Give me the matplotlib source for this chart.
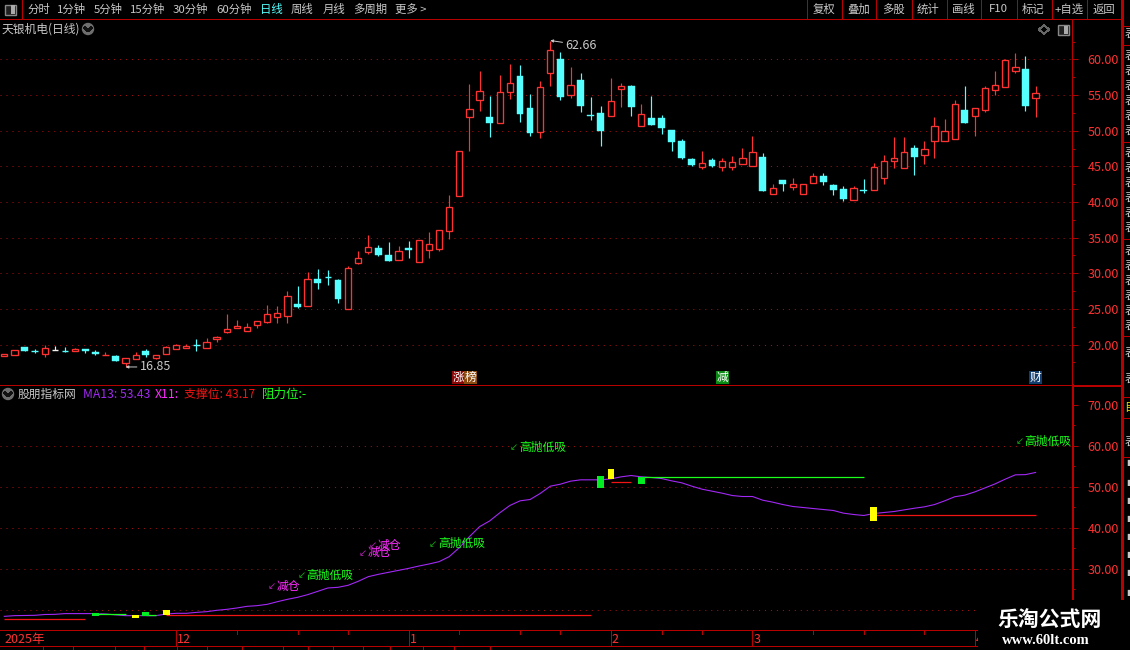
import matplotlib
matplotlib.use('Agg')
import matplotlib.pyplot as plt
from matplotlib.lines import Line2D
from matplotlib.patches import Rectangle, Ellipse

plt.rcParams['font.family'] = ['Noto Sans CJK SC', 'DejaVu Sans']
plt.rcParams['lines.scale_dashes'] = False

# daily candles
opens = [18.4, 18.55, 19.63, 19.07, 18.69, 19.3, 19.16, 19.11, 19.44, 18.97, 18.55, 18.36, 17.43, 17.99, 19.16,
         18.13, 18.69, 19.39, 19.53, 19.97, 19.53, 20.84, 21.78, 22.34, 21.92, 22.76, 23.18, 23.88, 24.02, 25.75,
         25.42, 29.25, 29.51, 29.02, 25.0, 31.45, 33.0, 33.6, 32.63, 31.92, 33.6, 31.64, 33.33, 33.42, 35.99,
         40.9, 51.86, 54.38, 51.86, 51.02, 55.46, 57.66, 53.26, 49.89, 58.17, 60.05, 54.95, 57.1, 52.23, 52.47,
         52.09, 55.79, 56.26, 50.71, 51.79, 51.79, 50.09, 48.54, 45.99, 44.91, 45.85, 44.91, 44.91, 45.33, 45.05,
         46.27, 41.08, 43.02, 42.08, 41.08, 42.64, 43.68, 42.45, 41.89, 40.33, 41.75, 41.64, 43.33, 45.77, 44.74,
         47.51, 46.57, 48.54, 48.54, 48.83, 52.86, 52.07, 52.91, 55.73, 56.15, 58.4, 58.73, 54.6]
closes = [18.74, 19.3, 19.11, 19.05, 19.58, 19.3, 19.13, 19.44, 19.07, 18.69, 18.6, 17.7, 18.04, 18.6, 18.55,
          18.6, 19.72, 20.0, 19.86, 19.93, 20.42, 21.03, 22.24, 22.66, 22.52, 23.32, 24.35, 24.49, 26.87, 25.23,
          29.25, 28.6, 29.47, 26.4, 30.79, 32.2, 33.75, 32.53, 31.74, 33.14, 33.28, 34.73, 34.17, 36.13, 39.36,
          47.22, 53.12, 55.6, 51.11, 55.5, 56.63, 52.37, 49.71, 56.07, 61.26, 54.76, 56.35, 53.5, 52.04, 49.99,
          54.24, 56.21, 53.36, 52.31, 50.85, 50.42, 48.44, 46.18, 45.14, 45.52, 45.0, 45.8, 45.66, 46.23, 47.08,
          41.51, 41.98, 42.59, 42.55, 42.55, 43.68, 42.74, 41.75, 40.47, 41.98, 41.51, 44.93, 45.77, 46.2, 47.05,
          46.29, 47.46, 50.7, 50.0, 53.8, 51.08, 53.24, 56.06, 56.48, 59.86, 59.01, 53.47, 55.35]
highs = [18.74, 19.3, 19.7, 19.35, 19.95, 19.86, 19.6, 19.58, 19.44, 19.2, 18.92, 18.6, 18.04, 19.02, 19.35,
         18.6, 19.86, 20.14, 20.14, 20.75, 20.89, 21.17, 24.25, 23.4, 23.08, 23.32, 25.5, 25.37, 27.48, 28.18,
         30.14, 30.56, 30.42, 29.25, 30.98, 33.18, 35.3, 33.9, 34.36, 33.8, 34.5, 34.73, 35.76, 36.13, 40.95,
         47.22, 56.54, 58.36, 54.85, 57.8, 59.34, 59.16, 55.09, 57.05, 62.66, 60.98, 58.88, 58.08, 54.67, 53.45,
         57.38, 56.68, 56.4, 53.77, 54.9, 52.22, 50.09, 48.82, 46.13, 47.12, 46.23, 46.23, 46.42, 47.64, 49.25,
         46.93, 42.59, 43.11, 43.3, 42.55, 44.1, 44.1, 42.59, 42.26, 42.26, 43.16, 45.54, 46.53, 49.06, 49.06,
         47.93, 48.5, 51.88, 51.6, 54.37, 56.24, 53.24, 56.24, 58.36, 60.0, 60.85, 60.47, 56.24]
lows = [18.4, 18.55, 19.11, 18.8, 18.2, 19.25, 18.9, 19.11, 18.8, 18.55, 18.55, 17.7, 16.85, 17.99, 18.27,
        18.0, 18.69, 19.35, 19.53, 19.1, 19.53, 20.33, 21.6, 22.34, 21.92, 22.29, 22.99, 22.99, 22.99, 25.09,
        25.42, 27.76, 28.32, 25.79, 25.0, 31.3, 32.77, 32.44, 31.74, 31.92, 32.16, 31.64, 32.16, 33.14, 34.82,
        40.9, 47.18, 52.79, 49.14, 51.02, 54.43, 51.25, 49.28, 49.0, 56.3, 54.29, 54.62, 52.65, 51.48, 47.83,
        52.09, 53.31, 52.04, 50.71, 50.85, 49.58, 47.12, 46.04, 45.0, 44.58, 44.91, 44.29, 44.43, 45.33, 45.05,
        41.51, 41.08, 41.51, 41.75, 41.08, 42.64, 42.45, 41.04, 40.19, 40.24, 41.32, 41.64, 42.58, 44.84, 44.74,
        43.85, 45.4, 46.24, 48.54, 48.83, 51.08, 49.2, 52.58, 54.98, 56.15, 58.12, 52.72, 51.88]
doji_white = [5]

# lower panel: MA13 line
ma13 = [18.33, 18.5, 18.54, 18.58, 18.78, 18.82, 19.0, 19.0, 19.0, 19.0, 18.9, 18.7, 18.5, 18.5, 18.5,
        18.5, 18.9, 19.07, 19.07, 19.3, 19.47, 19.8, 20.04, 20.37, 20.77, 20.94, 21.26, 21.9, 22.48, 22.97,
        23.62, 24.43, 25.25, 25.41, 25.9, 26.87, 28.01, 28.58, 29.07, 29.55, 30.04, 30.6, 31.1, 31.67, 32.89,
        35.08, 37.76, 40.2, 41.6, 43.58, 45.37, 46.5, 46.83, 48.3, 50.08, 50.57, 51.3, 51.63, 51.63, 51.63,
        51.87, 52.36, 52.68, 52.36, 52.2, 51.95, 51.38, 50.9, 50.08, 49.35, 48.86, 48.37, 47.8, 47.56, 47.56,
        46.67, 46.18, 45.6, 45.12, 44.88, 44.63, 44.39, 44.15, 43.5, 43.17, 42.93, 43.41, 43.66, 43.9, 44.3,
        44.7, 45.04, 45.6, 46.5, 47.5, 47.9, 48.7, 49.67, 50.65, 51.8, 52.85, 52.9, 53.43]

# support / resistance stretches: first candle, last candle, level
support_start = [0, 16, 60, 86]
support_end = [8, 58, 62, 102]
support_level = [17.6, 18.58, 51.22, 43.17]
resist_start = [9, 14, 63]
resist_end = [12, 15, 85]
resist_level = [18.98, 18.58, 52.2]

# small green / yellow blocks
green_idx = [9, 14, 59, 63]
green_top = [19.07, 19.39, 52.52, 52.28]
green_bot = [18.42, 18.5, 49.59, 50.57]
yellow_idx = [13, 16, 60, 86]
yellow_top = [18.66, 19.88, 54.23, 44.96]
yellow_bot = [17.93, 18.66, 51.87, 41.54]

# signal labels
signal_idx = [26, 29, 36, 35, 42, 50, 100]
signal_val = [25.7, 28.4, 35.7, 33.8, 36.0, 59.6, 61.0]
signal_txt = ['减仓', '高抛低吸', '减仓', '减仓', '高抛低吸', '高抛低吸', '高抛低吸']

price_ticks = [20, 25, 30, 35, 40, 45, 50, 55, 60]
price_minor = [17.5, 22.5, 27.5, 32.5, 37.5, 42.5, 47.5, 52.5, 57.5, 62.5]
ind_ticks = [30, 40, 50, 60, 70]
ind_grid = [20, 30, 40, 50, 60]
ind_minor = [25, 35, 45, 55, 65]

month_idx = [17, 40, 60, 74, 96]
month_lab = ['12', '1', '2', '3', '4']
week_idx = [23, 29, 34, 45, 51, 55, 65, 69, 80, 85, 91]

left_tabs = ['分时', '1分钟', '5分钟', '15分钟', '30分钟', '60分钟', '日线', '周线', '月线', '多周期', '更多 >']
left_tab_x = [27, 57, 94, 130, 173, 216, 260, 291, 323, 353, 395]
right_tabs = ['复权', '叠加', '多股', '统计', '画线', 'F10', '标记', '+自选', '返回']
right_tab_x = [813, 847, 882, 917, 952, 989, 1022, 1055, 1093]
tab_lines = [807, 842, 876, 912, 947, 981, 1017, 1052, 1087]

badge_pos = [44.9, 46.1, 71.05, 102]
badge_txt = ['涨', '榜', '减', '财']
badge_col = ['#8c0808', '#8a4a10', '#0a8a14', '#123e70']

RED_LINE = '#b80000'
RED_TEXT = '#ff3232'
CYAN = '#55ffff'
GRAY = '#c8c8c8'
PURPLE = '#a228f5'
GREEN = '#1cff1c'
MAGENTA = '#ff2cff'
W, H = 1130, 650


def fx(x):
    return x / W


def fy(y):
    return 1 - y / H


def make_axes(top, bottom, ymax, ymin):
    ax = fig.add_axes([0, fy(bottom), fx(1072), (bottom - top) / H])
    ax.set_facecolor('black')
    ax.set_xlim(-0.425, 105.6)
    ax.set_ylim(ymin, ymax)
    for s in ax.spines.values():
        s.set_visible(False)
    ax.xaxis.set_visible(False)
    return ax


def pixline(xs, ys, color=RED_LINE, lw=0.7, z=4):
    fig.add_artist(Line2D([fx(x) for x in xs], [fy(y) for y in ys], color=color, lw=lw,
                          transform=fig.transFigure, zorder=z, antialiased=False))


def axis_style(ax, ticks, minor):
    ax.yaxis.tick_right()
    ax.set_yticks(ticks)
    ax.set_yticks(minor, minor=True)
    ax.set_yticklabels(['%.2f' % t for t in ticks])
    ax.tick_params(axis='y', which='major', colors=RED_LINE, length=4.3, width=0.7, pad=7,
                   labelcolor=RED_TEXT, labelsize=9)
    ax.tick_params(axis='y', which='minor', colors=RED_LINE, length=2.2, width=0.7)


def chevron(cx, cy):
    fig.add_artist(Ellipse((fx(cx), fy(cy)), 11 / W, 11 / H, color='#6e6e6e', transform=fig.transFigure, zorder=4))
    pixline([cx - 3, cx, cx + 3], [cy - 1, cy + 2, cy - 1], color='#111111', lw=1.2, z=5)


def half_box(x0, y0):
    fig.add_artist(Rectangle((fx(x0), fy(y0 + 10)), 11 / W, 10 / H, fc='#202020', ec='#888888', lw=1,
                             transform=fig.transFigure, zorder=4))
    fig.add_artist(Rectangle((fx(x0 + 6), fy(y0 + 9)), 4 / W, 8 / H, fc='#aaaaaa', ec='none',
                             transform=fig.transFigure, zorder=5))


fig = plt.figure(figsize=(W / 100, H / 100), dpi=100, facecolor='black')

# ---- price panel
ax1 = make_axes(20, 385, 65.54, 14.32)
axis_style(ax1, price_ticks, price_minor)
ax1.hlines(price_ticks, -0.425, 105.6, color='#a01010', lw=0.7, linestyle=(0, (0.8, 3.5)), zorder=1)

for i in range(len(opens)):
    up = closes[i] >= opens[i]
    col = RED_TEXT if up else CYAN
    if i in doji_white:
        col = '#f0f0f0'
    ax1.vlines(i, lows[i], highs[i], color=col, lw=0.85, zorder=2)
    bottom = min(opens[i], closes[i])
    height = abs(closes[i] - opens[i])
    if height < 0.1:
        ax1.hlines(bottom, i - 0.33, i + 0.33, color=col, lw=1.0, zorder=3)
    elif up:
        ax1.bar(i, height, bottom=bottom, width=0.62, facecolor='black', edgecolor=col, lw=0.95, zorder=3)
    else:
        ax1.bar(i, height, bottom=bottom, width=0.68, facecolor=col, edgecolor=col, lw=0.3, zorder=3)

hi_i = highs.index(max(highs))
lo_i = lows.index(min(lows))
ax1.annotate('%.2f' % highs[hi_i], xy=(hi_i, highs[hi_i]), xytext=(15, -4.5), textcoords='offset pixels',
             color=GRAY, fontsize=9, va='center', arrowprops=dict(arrowstyle='-|>', color=GRAY, lw=0.7, shrinkA=0, shrinkB=0, mutation_scale=4))
ax1.annotate('%.2f' % lows[lo_i], xy=(lo_i, lows[lo_i]), xytext=(14, 0), textcoords='offset pixels',
             color=GRAY, fontsize=9, va='center', arrowprops=dict(arrowstyle='-|>', color=GRAY, lw=0.7, shrinkA=0, shrinkB=0, mutation_scale=4))

for p, t, c in zip(badge_pos, badge_txt, badge_col):
    ax1.text(p, 15.37, t, color='white', fontsize=8.5, ha='center', va='center',
             bbox=dict(fc=c, ec='none', pad=0.3), zorder=6)

# ---- indicator panel
ax2 = make_axes(385, 630, 74.76, 15.0)
axis_style(ax2, ind_ticks, ind_minor)
ax2.hlines(ind_grid, -0.425, 105.6, color='#a01010', lw=0.7, linestyle=(0, (0.8, 3.5)), zorder=1)
ax2.plot(range(len(ma13)), ma13, color=PURPLE, lw=0.8, zorder=3)
ax2.hlines(support_level, support_start, support_end, color='#f01414', lw=0.9, zorder=4)
ax2.hlines(resist_level, resist_start, resist_end, color=GREEN, lw=0.9, zorder=4)
ax2.bar(green_idx, [a - b for a, b in zip(green_top, green_bot)], bottom=green_bot, width=0.68, color='#00ee22', zorder=5)
ax2.bar(yellow_idx, [a - b for a, b in zip(yellow_top, yellow_bot)], bottom=yellow_bot, width=0.68, color='#ffff00', zorder=5)

for i, v, t in zip(signal_idx, signal_val, signal_txt):
    c = GREEN if t == '高抛低吸' else MAGENTA
    arrow_c = '#10a010' if t == '高抛低吸' else '#a820a8'
    ax2.text(i, v, '↙', color=arrow_c, fontsize=7, va='center', ha='left', family='DejaVu Sans', zorder=6)
    ax2.annotate(t, xy=(i, v), xytext=(9, 0), textcoords='offset pixels', color=c, fontsize=8.5, va='center', ha='left',
                 annotation_clip=False, zorder=6)

# ---- time axis
ax3 = make_axes(630, 646, 1, 0)
ax3.yaxis.set_visible(False)
ax3.vlines(month_idx, 0, 1, color=RED_LINE, lw=0.7, antialiased=False)
ax3.vlines(week_idx, 0.75, 1, color=RED_LINE, lw=0.7, antialiased=False)
ax3.text(0, 0.42, '2025年', color=RED_TEXT, fontsize=9, va='center', ha='left')
for i, t in zip(month_idx, month_lab):
    ax3.text(i + 0.1, 0.42, t, color=RED_TEXT, fontsize=9, va='center', ha='left')

# ---- frame lines
pixline([0, 1123], [19, 19])
pixline([0, 1123], [385, 385])
pixline([0, 978], [630, 630])
pixline([0, 978], [646, 646])
pixline([1072, 1072], [19, 385])
pixline([1073, 1073], [385, 600], lw=1.4)
pixline([1073, 1122], [386, 386], lw=1.4)
pixline([1122, 1122], [0, 600], lw=0.9)
pixline([22, 22], [0, 19])
for x in tab_lines:
    pixline([x, x], [0, 19])
for y in [26, 45, 142, 239, 336, 397, 418, 457]:
    pixline([1123, 1130], [y, y])
for x in [43, 73, 115, 144, 177, 207, 242, 283, 308, 333, 363, 390, 423, 454, 490]:
    pixline([x, x], [646, 650])

# ---- header text
for t, x in zip(left_tabs, left_tab_x):
    fig.text(fx(x), fy(9.5), t, color=CYAN if t == '日线' else GRAY, fontsize=8.2, va='center', ha='left')
for t, x in zip(right_tabs, right_tab_x):
    fig.text(fx(x), fy(9.5), t, color=GRAY, fontsize=8.2, va='center', ha='left')
fig.text(fx(2), fy(29), '天银机电(日线)', color=GRAY, fontsize=8.5, va='center', ha='left')
half_box(5, 4.5)
half_box(1058, 25)
chevron(88, 29)
pixline([1044, 1049, 1044, 1039, 1044], [25, 29.5, 34, 29.5, 25], color='#666666', lw=0.7)

# ---- indicator title
chevron(8, 394)
fig.text(fx(18), fy(394), '股朋指标网', color=GRAY, fontsize=8.5, va='center', ha='left')
fig.text(fx(83), fy(394), 'MA13: %.2f' % ma13[-1], color=PURPLE, fontsize=8.8, va='center', ha='left')
fig.text(fx(155), fy(394), 'X11:', color=MAGENTA, fontsize=8.8, va='center', ha='left')
fig.text(fx(184), fy(394), '支撑位: %.2f' % support_level[-1], color='#f01414', fontsize=8.6, va='center', ha='left')
fig.text(fx(262), fy(394), '阻力位:-', color=GREEN, fontsize=9, va='center', ha='left')

# ---- clipped side bar on the right edge
for y in [33] + list(range(55, 138, 15)) + list(range(152, 236, 15)) + list(range(250, 332, 15)) + [352, 378]:
    fig.text(fx(1124.5), fy(y), '表', color=GRAY, fontsize=8.5, va='center', ha='left')
fig.text(fx(1124.5), fy(408), '目', color='#d8d800', fontsize=8.5, va='center', ha='left')
fig.text(fx(1124.5), fy(441), '表', color=GRAY, fontsize=8.5, va='center', ha='left')
for y in [463, 482, 500, 518, 537, 555, 573, 592]:
    fig.text(fx(1126.5), fy(y), '■', color=GRAY, fontsize=6, va='center', ha='left', family='DejaVu Sans')

# ---- watermark block
fig.add_artist(Rectangle((fx(978), 0), 152 / W, 50 / H, fc='black', ec='none', transform=fig.transFigure, zorder=8))
fig.text(fx(1050), fy(619), '乐淘公式网', color='white', fontsize=15, fontweight='bold', va='center', ha='center', zorder=9)
fig.text(fx(1046), fy(640), 'www.60lt.com', color='white', fontsize=10.5, fontweight='bold', family='Liberation Serif',
         va='center', ha='center', zorder=9)

fig.savefig('out.png', dpi=100, facecolor='black')
